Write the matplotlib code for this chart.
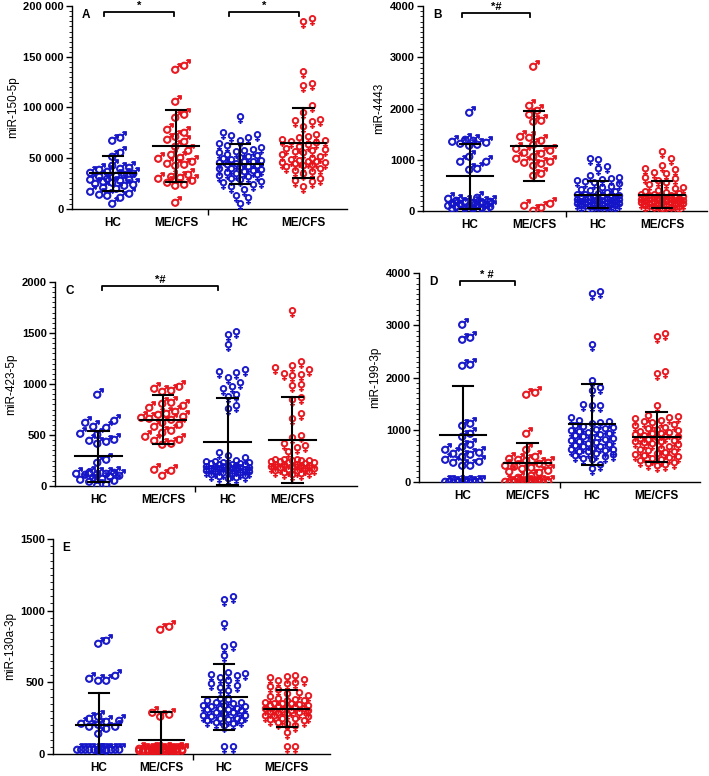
import numpy as np
import matplotlib
matplotlib.use('Agg')
import matplotlib.pyplot as plt
from matplotlib.ticker import MultipleLocator, FuncFormatter, FixedLocator

plt.rcParams['font.family'] = ['Liberation Sans', 'DejaVu Sans']

BLUE = '#1414c8'
RED = '#e8141c'
groups = ['HC', 'ME/CFS', 'HC', 'ME/CFS']

# ---- panel A : miR-150-5p
a_hc1 = [72000, 69000, 57000, 53000, 44000, 42000, 41000, 38000, 37000, 36000, 35000, 34000,
         33000, 31000, 30000, 29000, 28000, 27000, 26000, 25000, 24000, 22000, 21000, 19000,
         17000, 16000, 15000, 13000, 7000, 30000, 40000]
a_me1 = [143000, 139000, 107000, 95000, 92000, 80000, 77000, 73000, 70000, 68000, 63000, 59000,
         55000, 52000, 51000, 48000, 46000, 45000, 44000, 35000, 33000, 32000, 31000, 29000,
         27000, 25000, 24000, 8000]
a_hc2 = [90000, 74000, 72000, 71000, 69000, 66000, 63000, 61000, 59000, 57000, 55000, 54000,
         52000, 51000, 50000, 48000, 47000, 46000, 45000, 44000, 43000, 42000, 41000, 40000,
         39000, 38000, 37000, 36000, 35000, 34000, 33000, 32000, 31000, 30000, 28000, 27000,
         25000, 24000, 22000, 20000, 18000, 12000, 10000, 4000, 45000, 56000, 38000, 49000]
a_me2 = [186000, 183000, 134000, 122000, 120000, 100000, 94000, 87000, 86000, 85000, 80000,
         72000, 70000, 69000, 67000, 66000, 65000, 62000, 60000, 58000, 56000, 55000, 54000,
         50000, 48000, 47000, 46000, 45000, 44000, 43000, 42000, 41000, 40000, 38000, 36000,
         35000, 33000, 28000, 26000, 25000, 20000, 64000, 57000, 44000, 45000, 52000]
a_mean = [35000, 62000, 44000, 65000]
a_sd = [17000, 35500, 19500, 34500]

# ---- panel B : miR-4443
b_hc1 = [1950, 1420, 1400, 1380, 1360, 1340, 1320, 1300, 1100, 1000, 990, 860, 850, 290, 270,
         240, 220, 200, 190, 170, 160, 150, 140, 130, 120, 110, 100, 90, 80, 70, 60, 50, 40,
         180, 210, 30]
b_me1 = [2860, 2090, 2000, 1920, 1800, 1770, 1490, 1470, 1400, 1320, 1260, 1220, 1180, 1150,
         1100, 1050, 1000, 980, 950, 920, 760, 730, 170, 140, 100, 40]
b_hc2 = [1000, 970, 850, 800, 660, 620, 600, 580, 560, 540, 520, 500, 460, 430, 400, 380, 350,
         330, 310, 300, 290, 280, 270, 260, 250, 240, 230, 220, 210, 200, 190, 180, 170, 160,
         150, 140, 130, 120, 110, 100, 90, 80, 70, 60, 50, 40, 200, 250, 180, 150, 120, 90]
b_me2 = [1130, 990, 870, 810, 790, 720, 700, 630, 600, 560, 520, 480, 430, 410, 380, 350, 330,
         310, 300, 290, 280, 270, 260, 250, 240, 230, 220, 210, 200, 200, 190, 180, 180, 170,
         160, 150, 150, 140, 130, 120, 110, 100, 90, 80, 70, 60, 50, 40, 30, 250, 220, 190,
         160, 130]
b_mean = [680, 1265, 320, 320]
b_sd = [630, 685, 262, 266]

# ---- panel C : miR-423-5p
c_hc1 = [910, 660, 640, 600, 590, 530, 520, 470, 460, 450, 430, 270, 250, 150, 145, 140, 135,
         130, 120, 110, 100, 140, 90, 80, 70, 60, 30, 20]
c_me1 = [990, 970, 950, 940, 830, 820, 800, 780, 750, 730, 720, 700, 690, 680, 670, 640, 620,
         600, 560, 540, 500, 470, 460, 430, 420, 180, 170, 120]
c_hc2 = [1500, 1470, 1370, 1130, 1110, 1100, 1050, 1000, 960, 940, 880, 860, 770, 750, 310,
         280, 260, 240, 230, 220, 215, 210, 205, 200, 195, 190, 185, 180, 175, 170, 165, 160,
         155, 150, 145, 140, 135, 130, 125, 120, 115, 110, 100, 90, 80, 70, 60, 230, 200, 180, 160]
c_me2 = [1710, 1210, 1170, 1150, 1130, 1090, 1080, 1070, 980, 970, 850, 830, 700, 650, 480,
         460, 400, 380, 360, 320, 250, 245, 240, 235, 230, 225, 220, 215, 210, 200, 195, 190,
         185, 180, 170, 160, 150, 140, 130, 120, 110, 100, 250, 240, 200, 180, 160, 140]
c_mean = [290, 650, 435, 450]
c_sd = [250, 240, 425, 420]

# ---- panel D : miR-199-3p
d_hc1 = [3050, 2800, 2760, 2280, 2250, 1150, 1100, 950, 900, 740, 700, 650, 600, 580, 550, 520,
         450, 420, 400, 350, 340, 40, 40, 30, 30, 30, 20, 20, 10, 40]
d_me1 = [1750, 1700, 960, 650, 520, 480, 450, 430, 400, 380, 350, 330, 300, 280, 250, 220, 200,
         160, 120, 40, 35, 30, 30, 25, 20, 20, 20, 15, 10, 10, 40, 30]
d_hc2 = [3620, 3590, 2600, 1920, 1780, 1720, 1450, 1440, 1430, 1200, 1150, 1120, 1100, 1090,
         1060, 1040, 1020, 1000, 980, 960, 940, 920, 900, 880, 860, 840, 820, 800, 780, 760,
         740, 720, 700, 680, 660, 650, 640, 620, 600, 590, 580, 560, 550, 520, 500, 480, 450,
         420, 400, 300, 230]
d_me2 = [2820, 2760, 2090, 2040, 1430, 1250, 1220, 1200, 1180, 1150, 1120, 1100, 1080, 1050,
         1020, 1000, 980, 960, 940, 920, 900, 880, 860, 840, 820, 800, 780, 760, 740, 720, 700,
         680, 650, 620, 600, 580, 560, 540, 520, 500, 480, 460, 440, 420, 400, 380, 350, 320,
         300, 280, 850, 900, 750]
d_mean = [890, 364, 1100, 860]
d_sd = [955, 382, 770, 480]

# ---- panel E : miR-130a-3p
e_hc1 = [800, 780, 560, 540, 525, 520, 270, 255, 245, 235, 225, 215, 205, 200, 190, 150, 40,
         40, 40, 40, 40, 40, 40, 40, 40, 40, 40, 40, 35, 35]
e_me1 = [900, 880, 300, 285, 270, 50, 50, 50, 50, 50, 45, 45, 45, 45, 45, 40, 40, 40, 40, 40,
         35, 35, 35, 35, 30, 30, 30, 30, 25, 25, 25, 20, 20]
e_hc2 = [1090, 1070, 900, 750, 740, 680, 560, 550, 545, 535, 520, 500, 480, 470, 450, 430, 380,
         370, 360, 350, 340, 330, 320, 310, 300, 290, 280, 270, 260, 250, 240, 230, 220, 210,
         200, 190, 40, 40, 320, 300, 280, 260, 240, 220, 350, 330, 310]
e_me2 = [540, 530, 520, 510, 500, 490, 480, 460, 440, 420, 410, 400, 390, 380, 370, 360, 350,
         345, 340, 335, 330, 325, 320, 315, 310, 305, 300, 295, 290, 285, 280, 270, 260, 250,
         240, 230, 220, 210, 200, 190, 140, 40, 40, 360, 340, 320, 300, 280, 260, 240]
e_mean = [203, 98, 400, 317]
e_sd = [225, 195, 230, 130]


def space_fmt(v, pos):
    return '{:,}'.format(int(v)).replace(',', ' ')


def swarm(ax, xc, vals, size_px, maxw):
    vals = np.sort(np.asarray(vals, float))
    ys = ax.transData.transform(np.column_stack([np.full(len(vals), xc), vals]))[:, 1]
    ppu = ax.transData.transform((1, 0))[0] - ax.transData.transform((0, 0))[0]
    step = size_px * 0.5
    cand = [0.0]
    k = 1
    while k * step <= maxw * ppu:
        cand += [k * step, -k * step]
        k += 1
    placed = []
    offs = []
    for y0 in ys:
        best, bestd = 0.0, -1
        for c in cand:
            d = min([np.hypot(c - px, y0 - py) for px, py in placed], default=np.inf)
            if d >= size_px:
                best = c
                break
            if d > bestd:
                bestd, best = d, c
        placed.append((best, y0))
        offs.append(best / ppu)
    return xc + np.array(offs), vals


panels = [
    dict(pos=[0.1016, 0.731, 0.3874, 0.261], data=[a_hc1, a_me1, a_hc2, a_me2], mean=a_mean, sd=a_sd,
         ymax=200000, major=50000, minor=5000, label='miR-150-5p', letter='A', xlim=(0.36, 4.68),
         fmt=True, brackets=[(0.87, 1.97, 194500, '*'), (2.83, 3.93, 194500, '*')]),
    dict(pos=[0.5966, 0.728, 0.4006, 0.264], data=[b_hc1, b_me1, b_hc2, b_me2], mean=b_mean, sd=b_sd,
         ymax=4000, major=1000, minor=100, label='miR-4443', letter='B', xlim=(0.27, 4.70),
         fmt=False, brackets=[(0.88, 1.94, 3870, '*#')]),
    dict(pos=[0.0776, 0.3737, 0.4259, 0.2629], data=[c_hc1, c_me1, c_hc2, c_me2], mean=c_mean, sd=c_sd,
         ymax=2000, major=500, minor=50, label='miR-423-5p', letter='C', xlim=(0.33, 5.0),
         fmt=False, brackets=[(1.06, 2.85, 1960, '*#')]),
    dict(pos=[0.591, 0.379, 0.396, 0.269], data=[d_hc1, d_me1, d_hc2, d_me2], mean=d_mean, sd=d_sd,
         ymax=4000, major=1000, minor=100, label='miR-199-3p', letter='D', xlim=(0.32, 4.67),
         fmt=False, brackets=[(0.95, 1.80, 3850, '* #')]),
    dict(pos=[0.0748, 0.0284, 0.3906, 0.277], data=[e_hc1, e_me1, e_hc2, e_me2], mean=e_mean, sd=e_sd,
         ymax=1500, major=500, minor=50, label='miR-130a-3p', letter='E', xlim=(0.27, 4.69),
         fmt=False, brackets=[]),
]

fig = plt.figure(figsize=(7.09, 7.76), dpi=100)

for p in panels:
    ax = fig.add_axes(p['pos'])
    ax.set_xlim(*p['xlim'])
    ax.set_ylim(0, p['ymax'])
    for s in ['top', 'right']:
        ax.spines[s].set_visible(False)
    for s in ['left', 'bottom']:
        ax.spines[s].set_linewidth(1.0)
    ax.yaxis.set_major_locator(MultipleLocator(p['major']))
    ax.yaxis.set_minor_locator(MultipleLocator(p['minor']))
    if p['fmt']:
        ax.yaxis.set_major_formatter(FuncFormatter(space_fmt))
    ax.tick_params(axis='y', which='major', length=4, width=1.0, labelsize=8, pad=2)
    ax.tick_params(axis='y', which='minor', length=2, width=0.6)
    ax.set_xticks([1, 2, 3, 4])
    ax.set_xticklabels(groups, fontsize=8.5, fontweight='bold')
    ax.xaxis.set_minor_locator(FixedLocator([2.5]))
    ax.tick_params(axis='x', which='major', length=0, pad=6)
    ax.tick_params(axis='x', which='minor', length=4, width=1.0)
    for t in ax.get_yticklabels():
        t.set_fontweight('bold')
    ax.set_ylabel(p['label'], fontsize=8.5, labelpad=3)
    ax.text(0.035, 0.985, p['letter'], transform=ax.transAxes, fontsize=8.5,
            fontweight='bold', va='top', ha='left')

    for i, vals in enumerate(p['data']):
        xc = i + 1
        col = BLUE if i % 2 == 0 else RED
        mk = '$\u2642$' if i < 2 else '$\u2640$'
        xs, ys = swarm(ax, xc, vals, 8.5, 0.36)
        ax.scatter(xs, ys, marker=mk, s=52, c=col, edgecolors=col, linewidths=0.6, zorder=3)
        m, sd = p['mean'][i], p['sd'][i]
        ax.plot([xc - 0.36, xc + 0.36], [m, m], color='black', lw=1.5, zorder=4)
        ax.plot([xc, xc], [m - sd, m + sd], color='black', lw=1.5, zorder=4)
        for yb in (m - sd, m + sd):
            ax.plot([xc - 0.16, xc + 0.16], [yb, yb], color='black', lw=1.5, zorder=4)

    tick = p['ymax'] * 0.02
    for x1, x2, yb, txt in p['brackets']:
        ax.plot([x1, x1, x2, x2], [yb - tick, yb, yb, yb - tick], color='black', lw=1.3,
                clip_on=False)
        ax.text((x1 + x2) / 2, yb + p['ymax'] * 0.005, txt, ha='center', va='bottom',
                fontsize=8, fontweight='bold', clip_on=False)

fig.savefig('out.png', dpi=100)
